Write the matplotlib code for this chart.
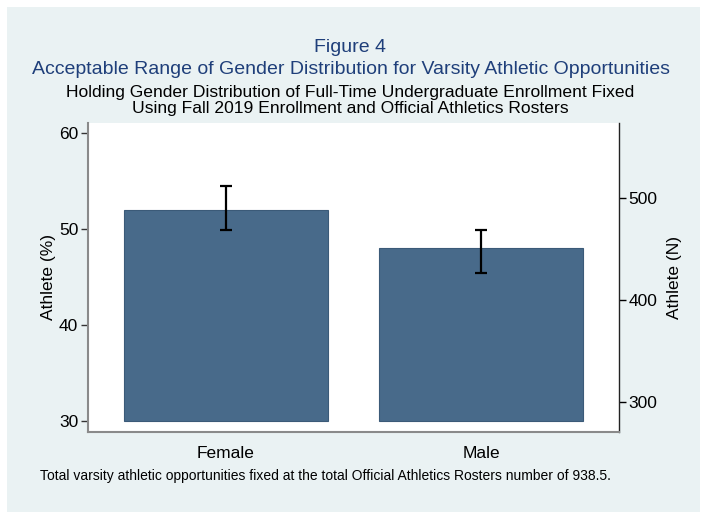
import numpy as np
import matplotlib.pyplot as plt
from matplotlib.patches import Rectangle

plt.rcParams['font.family'] = ['Liberation Sans', 'DejaVu Sans']

# data
groups = ['Female', 'Male']
pct = [51.95, 48.05]
ci_low = [49.9, 45.4]
ci_high = [54.5, 49.95]
total_n = 938.5
left_ticks = [30, 40, 50, 60]
right_ticks = [300, 400, 500]

bg = '#EAF2F3'
barc = '#486A8A'

fig = plt.figure(figsize=(7.01, 5.12), dpi=100)
fig.patch.set_facecolor('white')
fig.patches.append(Rectangle((7 / 701, 0), 693 / 701, 505 / 512,
                             transform=fig.transFigure, facecolor=bg,
                             edgecolor='none', zorder=-10))

ax = fig.add_axes([88 / 701, 1 - 432 / 512, 531 / 701, 309 / 512])
ax.set_facecolor('white')

x = np.arange(1, len(groups) + 1)
ax.bar(x, np.array(pct) - 30, bottom=30, width=0.8, color=barc,
       edgecolor='#3B5A78', linewidth=0.8, zorder=2)
mid = (np.array(ci_low) + np.array(ci_high)) / 2
err = (np.array(ci_high) - np.array(ci_low)) / 2
ax.errorbar(x, mid, yerr=err, fmt='none', ecolor='black', elinewidth=1.6,
            capsize=4, capthick=1.6, zorder=3)

ax.set_xlim(0.46, 2.54)
ax.set_ylim(28.85, 61.05)
ax.set_xticks(x)
ax.set_xticklabels(groups, fontsize=12.5)
ax.tick_params(axis='x', length=0, pad=10)
ax.set_yticks(left_ticks)
ax.tick_params(axis='y', labelsize=12.5, length=5, width=1, color='#333333', pad=2)
ax.set_ylabel('Athlete (%)', fontsize=12.5, labelpad=2)

ax.spines['top'].set_visible(False)
ax.spines['left'].set_color('#8A8A8A')
ax.spines['left'].set_linewidth(1.5)
ax.spines['bottom'].set_color('#8A8A8A')
ax.spines['bottom'].set_linewidth(1.5)
ax.spines['right'].set_color('#222222')
ax.spines['right'].set_linewidth(1)

sec = ax.secondary_yaxis('right', functions=(lambda v: v * total_n / 100,
                                             lambda v: v * 100 / total_n))
sec.set_yticks(right_ticks)
sec.tick_params(labelsize=12.5, length=5, width=1, pad=2)
sec.spines['right'].set_visible(False)
sec.set_ylabel('Athlete (N)', fontsize=12.5, labelpad=7)

fig.text(0.5, 1 - 48 / 512, 'Figure 4', ha='center', va='center',
         fontsize=14, color='#1F3F7A')
fig.text(0.5, 1 - 70 / 512,
         'Acceptable Range of Gender Distribution for Varsity Athletic Opportunities',
         ha='center', va='center', fontsize=14, color='#1F3F7A')
fig.text(0.5, 1 - 92 / 512,
         'Holding Gender Distribution of Full-Time Undergraduate Enrollment Fixed',
         ha='center', va='center', fontsize=12.6, color='black')
fig.text(0.5, 1 - 109 / 512,
         'Using Fall 2019 Enrollment and Official Athletics Rosters',
         ha='center', va='center', fontsize=12.6, color='black')
fig.text(40 / 701, 1 - 476 / 512,
         'Total varsity athletic opportunities fixed at the total Official Athletics Rosters number of 938.5.',
         ha='left', va='center', fontsize=10, color='black')

fig.savefig('out.png', dpi=100, facecolor=fig.get_facecolor())
